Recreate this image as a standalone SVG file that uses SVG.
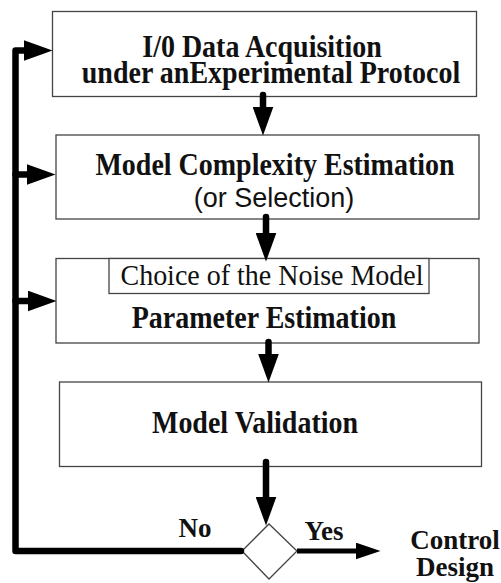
<svg xmlns="http://www.w3.org/2000/svg" width="501" height="583" viewBox="0 0 501 583">
<style>
.box{fill:#fff;stroke:#444;stroke-width:1.3}
.t{font-family:"Liberation Serif","Times New Roman",serif;font-size:28px;fill:#111;text-anchor:middle}
.b{font-weight:bold}
.s{font-family:"Liberation Sans",Arial,sans-serif;font-size:27px;fill:#111;text-anchor:middle}
.c{fill:none;stroke:#000;stroke-width:6.5;stroke-linecap:round;stroke-linejoin:round}
.cs{fill:none;stroke:#000;stroke-width:5}
</style>
<defs>
<marker id="head" markerUnits="userSpaceOnUse" viewBox="0 0 29 21" markerWidth="29" markerHeight="21" refX="0.5" refY="10.5" orient="auto">
<path d="M0,0 L29,10.5 L0,21 Z" fill="#000"/>
</marker>
<marker id="headS" markerUnits="userSpaceOnUse" viewBox="0 0 25 17" markerWidth="25" markerHeight="17" refX="0.5" refY="8.5" orient="auto">
<path d="M0,0 L25,8.5 L0,17 Z" fill="#000"/>
</marker>
</defs>
<g id="n1">
<rect class="box" x="52.5" y="11.5" width="424" height="85"/>
<text class="t b" transform="translate(262,57) scale(1,1.12)">I/0 Data Acquisition</text>
<text class="t b" transform="translate(271,83) scale(1,1.12)">under anExperimental Protocol</text>
</g>
<g id="n2">
<rect class="box" x="56" y="135" width="423" height="84"/>
<text class="t b" transform="translate(275,175) scale(1,1.12)">Model Complexity Estimation</text>
<text class="s" transform="translate(274,207) scale(1,1.05)">(or Selection)</text>
</g>
<g id="n3">
<rect class="box" x="56" y="258.5" width="423" height="84.5"/>
<rect class="box" x="109" y="258.5" width="320" height="35"/>
<text class="t" transform="translate(272,285) scale(1,1.05)">Choice of the Noise Model</text>
<text class="t b" transform="translate(264,328) scale(1,1.1)">Parameter Estimation</text>
</g>
<g id="n4">
<rect class="box" x="59.5" y="382" width="422" height="84.5"/>
<text class="t b" transform="translate(255,433) scale(1,1.1)">Model Validation</text>
</g>
<g id="n5">
<polygon class="box" points="242,551 269,524 297,551 269,579"/>
</g>
<g id="n6">
<text class="t b" x="455" y="549" style="font-size:27px">Control</text>
<text class="t b" x="455" y="576" style="font-size:27px">Design</text>
</g>
<g id="connectors">
<path class="c" d="M263,95 V107" marker-end="url(#head)"/>
<path class="c" d="M266,217 V233" marker-end="url(#head)"/>
<path class="c" d="M268.5,342 V354" marker-end="url(#head)"/>
<path class="c" d="M266,462 V497" marker-end="url(#head)"/>
<path class="c" d="M241,551 H15.5 V50.5 H24" marker-end="url(#head)"/>
<path class="c" d="M15.5,174.5 H27" marker-end="url(#head)"/>
<path class="c" d="M15.5,301 H28" marker-end="url(#head)"/>
<path class="cs" d="M297,551 H356" marker-end="url(#headS)"/>
<text class="t b" x="195" y="537" style="font-size:27px">No</text>
<text class="t b" x="324" y="540" style="font-size:27px">Yes</text>
</g>
</svg>
